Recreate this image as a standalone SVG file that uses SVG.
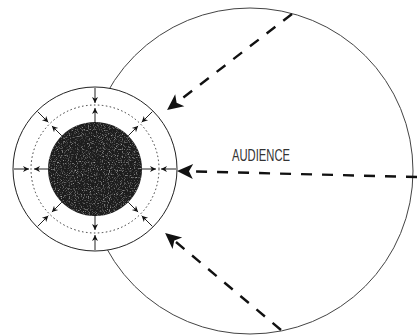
<svg xmlns="http://www.w3.org/2000/svg" width="417" height="336" viewBox="0 0 417 336">
<style>
.dash{fill:none;stroke:#111;stroke-width:2.4;stroke-dasharray:11 10;marker-end:url(#big)}
.sm{fill:none;stroke:#222;stroke-width:1;marker-end:url(#small)}
.lbl{font-family:"Liberation Sans",Arial,sans-serif;font-size:16px;fill:#333}
</style>
<defs>
<marker id="small" viewBox="0 0 10 10" refX="10" refY="5" markerWidth="8" markerHeight="6" markerUnits="userSpaceOnUse" orient="auto">
<path d="M0,0 L10,5 L0,10 L3,5 Z" fill="#111"/>
</marker>
<marker id="big" viewBox="-5 -8 18 16" refX="0" refY="0" markerWidth="18" markerHeight="16" markerUnits="userSpaceOnUse" orient="auto">
<path d="M12,0 L-4,-7.5 L0,0 L-4,7.5 Z" fill="#111"/>
</marker>
<filter id="spk" x="0" y="0" width="1" height="1">
<feTurbulence type="fractalNoise" baseFrequency="0.85" numOctaves="2" seed="4" result="t"/>
<feColorMatrix in="t" type="matrix" values="0 0 0 0 1 0 0 0 0 1 0 0 0 0 1 3 0 0 0 -1.55" result="w"/>
<feComposite in="w" in2="SourceGraphic" operator="in"/>
</filter>
</defs>
<rect width="417" height="336" fill="#fff"/>
<g id="audience">
<circle cx="250" cy="171" r="163" fill="none" stroke="#444" stroke-width="1"/>
<text class="lbl" x="232" y="161" textLength="58" lengthAdjust="spacingAndGlyphs">AUDIENCE</text>
</g>
<g id="speaker">
<circle cx="95" cy="169" r="82" fill="#fff" stroke="#222" stroke-width="1"/>
<circle cx="95" cy="169" r="64" fill="none" stroke="#333" stroke-width="1" stroke-dasharray="1.5 2.5"/>
<circle cx="95" cy="169" r="47" fill="#1c1c1c"/>
<circle cx="95" cy="169" r="47" fill="#fff" filter="url(#spk)" opacity="0.6"/>
</g>
<g id="connectors">
<path class="dash" d="M292,14 L176.6,102.7"/>
<path class="dash" d="M417,177 L189,171.3"/>
<path class="dash" d="M281,330 L174.3,240.6"/>
<path class="sm" d="M176,169 L161,169"/>
<path class="sm" d="M142,169 L156,169"/>
<path class="sm" d="M14,169 L29,169"/>
<path class="sm" d="M48,169 L34,169"/>
<path class="sm" d="M95,250 L95,235"/>
<path class="sm" d="M95,216 L95,230"/>
<path class="sm" d="M95,88 L95,103"/>
<path class="sm" d="M95,122 L95,108"/>
<path class="sm" d="M152.3,226.3 L141.7,215.7"/>
<path class="sm" d="M128.2,202.2 L138.1,212.1"/>
<path class="sm" d="M37.7,226.3 L48.3,215.7"/>
<path class="sm" d="M61.8,202.2 L51.9,212.1"/>
<path class="sm" d="M37.7,111.7 L48.3,122.3"/>
<path class="sm" d="M61.8,135.8 L51.9,125.9"/>
<path class="sm" d="M152.3,111.7 L141.7,122.3"/>
<path class="sm" d="M128.2,135.8 L138.1,125.9"/>
</g>
</svg>
